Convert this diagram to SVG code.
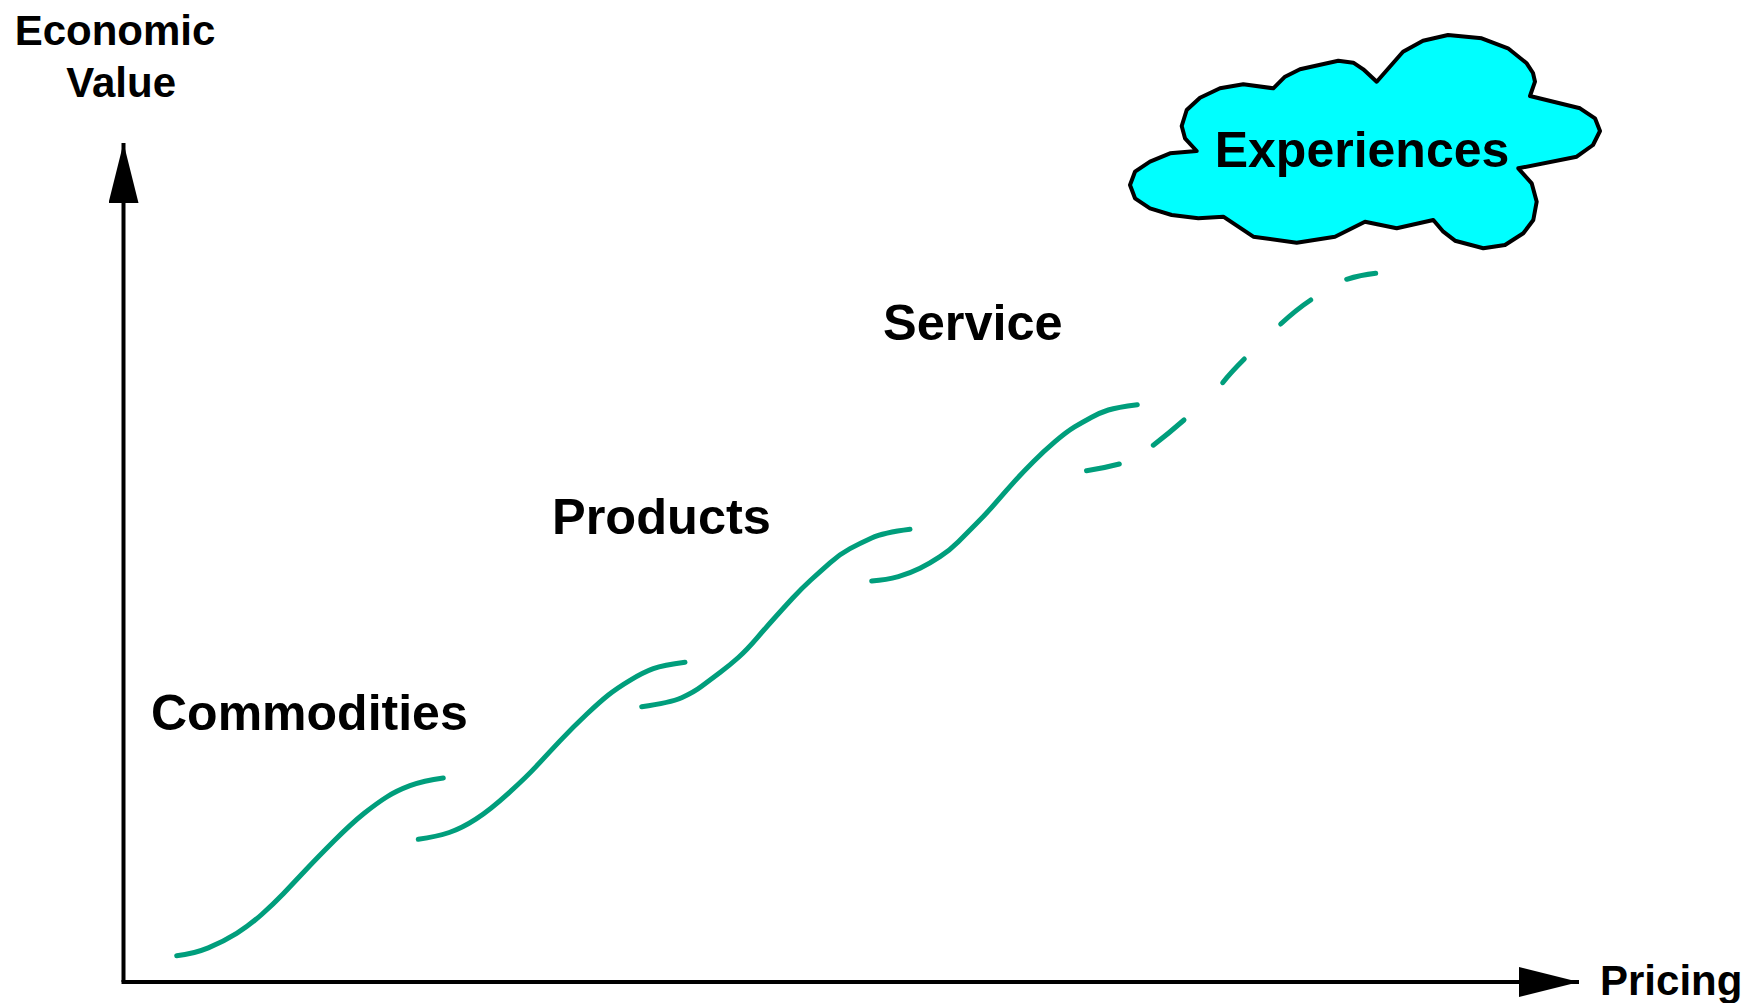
<svg xmlns="http://www.w3.org/2000/svg" width="1746" height="1003" viewBox="0 0 1746 1003">
<style>
.lbl{font-family:"Liberation Sans",Arial,sans-serif;font-weight:bold;fill:#000}
.axis{stroke:#000;stroke-width:4;fill:none}
.curve{stroke:#009E7C;stroke-width:5;fill:none;stroke-linecap:round;stroke-linejoin:round}
</style>
<defs>
<marker id="ah" viewBox="0 0 60 30" refX="60" refY="15" markerWidth="60" markerHeight="30" markerUnits="userSpaceOnUse" orient="auto">
<path d="M0,0 L60,15 L0,30 Z" fill="#000"/>
</marker>
</defs>
<rect width="1746" height="1003" fill="#fff"/>
<g id="connectors">
<path class="axis" d="M123.5,982 L123.5,143" marker-end="url(#ah)"/>
<path class="axis" d="M121.5,982 L1579,982" marker-end="url(#ah)"/>
<path class="curve" d="M176.7,955.7 Q193.3,954 208.3,947.85 Q223.3,941.7 236.65,933.35 Q250,925 261.65,914.5 Q273.3,904 283.3,893.65 Q293.3,883.3 305,870.8 Q316.7,858.3 334.2,840.8 Q351.7,823.3 364.2,813.3 Q376.7,803.3 386.7,797 Q396.7,790.7 410,785.7 Q423.3,780.7 443.3,778"/>
<path class="curve" d="M418.3,839.3 Q436.7,836.7 449.2,832.5 Q461.7,828.3 475.85,819.15 Q490,810 508.35,793.35 Q526.7,776.7 536.7,765.85 Q546.7,755 560,740.85 Q573.3,726.7 586.65,714.2 Q600,701.7 608.35,695 Q616.7,688.3 630,680.3 Q643.3,672.3 653.3,668.65 Q663.3,665 685,662.3"/>
<path class="curve" d="M641.7,706.7 Q670,702.7 681.65,697.7 Q693.3,692.7 701.65,686.35 Q710,680 720,672.5 Q730,665 738.35,657.5 Q746.7,650 756.7,638.35 Q766.7,626.7 775,617.5 Q783.3,608.3 792.5,598.3 Q801.7,588.3 810.85,580 Q820,571.7 830,562.85 Q840,554 850,548.65 Q860,543.3 871.65,538 Q883.3,532.7 910,529.3"/>
<path class="curve" d="M871.7,581 Q886.7,580 898.35,576.65 Q910,573.3 920,568.3 Q930,563.3 940,556.65 Q950,550 958.35,541.65 Q966.7,533.3 976.7,523.3 Q986.7,513.3 996.7,501.65 Q1006.7,490 1015,480.85 Q1023.3,471.7 1033.3,461.7 Q1043.3,451.7 1055,441.7 Q1066.7,431.7 1075,426.7 Q1083.3,421.7 1091.65,417.2 Q1100,412.7 1108.35,410 Q1116.7,407.3 1137.3,404.7"/>
<path class="curve" d="M1086.5,470.7 Q1103.3,468.3 1119.3,464"/>
<path class="curve" d="M1153.3,445.2 Q1168,434 1184,420"/>
<path class="curve" d="M1222.7,382.7 Q1230,373.3 1244.3,359"/>
<path class="curve" d="M1280.7,324 Q1296.7,309.3 1310.7,300"/>
<path class="curve" d="M1346.7,279.3 Q1360,275 1375.7,273.3"/>
</g>
<g id="y-axis-label">
<text class="lbl" x="14.7" y="45" font-size="42">Economic</text>
<text class="lbl" x="66.3" y="96.7" font-size="42">Value</text>
</g>
<g id="x-axis-label">
<text class="lbl" x="1600" y="995" font-size="42">Pricing</text>
</g>
<g id="commodities">
<text class="lbl" x="151" y="730" font-size="50">Commodities</text>
</g>
<g id="products">
<text class="lbl" x="552" y="534" font-size="50.5">Products</text>
</g>
<g id="service">
<text class="lbl" x="883" y="340" font-size="50.5">Service</text>
</g>
<g id="experiences">
<path d="M1376.7,81.7 L1403,51.7 L1423,40.7 L1448,35 L1481.7,38.3 L1508,48.3 L1526.7,63.3 L1533,73 L1535,81.7 L1530,96 L1580,108.3 L1595,118.3 L1600,131 L1593,145 L1576.7,156.7 L1518.3,168.3 L1531.7,183.3 L1536.7,201.7 L1533.3,220 L1523.3,233.3 L1505,245 L1483.3,248.3 L1455,240.7 L1443.3,231.7 L1433.3,220 L1396.7,228.3 L1365,221.7 L1335,236.7 L1296.7,242.7 L1253.3,236.7 L1223.3,216.7 L1198.3,218.3 L1171.7,215 L1150,208.3 L1135,198.3 L1130,185 L1135,171.7 L1150,161.7 L1170,153.3 L1196.7,151 L1185,138.3 L1181.7,126 L1186.7,110 L1200,97.7 L1220,88.3 L1243.3,84.3 L1273.3,88.3 L1285,76.7 L1300,69.3 L1338.3,60.7 L1353.3,62.7 L1363.3,69.3 Z" fill="#00FFFF" stroke="#000" stroke-width="4" stroke-linejoin="round"/>
<text class="lbl" x="1214.7" y="166.7" font-size="50">Experiences</text>
</g>
</svg>
